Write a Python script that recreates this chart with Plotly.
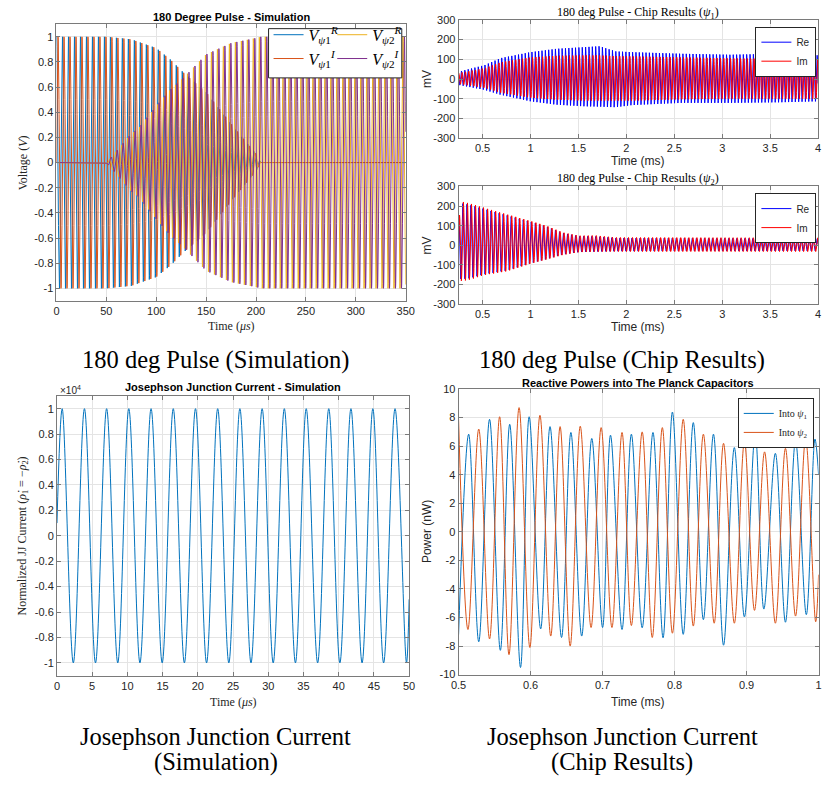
import numpy as np
import plotly.graph_objects as go

W, H = 831, 785

# ---------------- data ----------------
# (a) 180 degree pulse - simulation: envelope knots (us) and carrier period
sim_env_t      = [0, 50, 75, 82, 100, 114, 128, 150, 175, 200, 205, 350]
sim_amp_psi1   = [1, 1, 0.98, 0.96, 0.91, 0.82, 0.71, 0.56, 0.31, 0.07, 0, 0]
sim_amp_psi2   = [0, 0, 0.23, 0.27, 0.45, 0.58, 0.68, 0.86, 0.95, 0.99, 1, 1]
sim_period_us  = 6.0

# (b) chip results: envelope knots (ms), upper / lower (mV), carrier periods
chip_t_knots   = [0.25, 0.52, 0.69, 1.0, 1.27, 1.55, 1.72, 1.89, 2.06, 2.57, 3.08, 3.59, 4.0]
psi1_re_upper  = [37, 70, 106, 136, 153, 161, 166, 140, 136, 128, 123, 128, 120]
psi1_re_lower  = [-30, -55, -80, -113, -130, -138, -140, -143, -132, -121, -121, -118, -113]
psi1_im_upper  = [30, 55, 85, 110, 118, 120, 120, 116, 115, 110, 105, 102, 100]
psi1_im_lower  = [-25, -45, -70, -95, -105, -110, -110, -110, -110, -103, -100, -100, -100]
chip2_t_knots  = [0.25, 0.27, 0.35, 0.52, 0.76, 1.0, 1.17, 1.34, 1.51, 1.68, 1.89, 4.0]
psi2_re_upper  = [120, 215, 208, 185, 152, 120, 95, 62, 46, 45, 37, 33]
psi2_re_lower  = [-170, -172, -170, -148, -128, -92, -70, -47, -34, -32, -30, -28]
psi2_im_upper  = [100, 224, 216, 191, 157, 124, 99, 65, 49, 50, 40, 38]
psi2_im_lower  = [-180, -182, -178, -152, -132, -94, -72, -49, -35, -33, -32, -32]
chip1_period_ms = 0.035
chip2_period_ms = 0.042

# (c) Josephson junction current - simulation: extrema times (us)
jj_peak_t   = [0.74, 3.90, 7.05, 10.20, 13.36, 16.51, 19.67, 22.82, 25.97, 29.13,
               32.28, 35.39, 38.59, 41.74, 44.85, 48.00]
jj_trough_t = [2.32, 5.47, 8.63, 11.78, 14.94, 18.09, 21.24, 24.40, 27.55, 30.70,
               33.86, 37.01, 40.17, 43.32, 46.38, 49.63]
jj_amp = 1e4
jj_start, jj_end = 0.1e4, -0.5e4

# (d) Reactive powers: extrema (time ms, power nW)
p1_t = [0.500, 0.514, 0.528, 0.543, 0.558, 0.571, 0.586, 0.598, 0.614, 0.627, 0.643, 0.656,
        0.671, 0.685, 0.700, 0.711, 0.727, 0.740, 0.755, 0.770, 0.784, 0.797, 0.812, 0.826,
        0.840, 0.854, 0.868, 0.883, 0.897, 0.912, 0.924, 0.940, 0.954, 0.968, 0.983, 0.995, 1.0]
p1_v = [-7.2, 6.84, -7.7, 7.88, -8.3, 7.53, -9.5, 8.06, -6.8, 7.37, -7.4, 6.96,
        -7.3, 6.54, -6.7, 6.77, -6.84, 6.84, -6.72, 6.96, -7.42, 8.39, -7.18, 7.65,
        -6.15, 6.84, -7.94, 5.9, -5.96, 6.9, -5.41, 5.5, -6.33, 6.38, -5.8, 6.5, 4.0]
p2_t = [0.500, 0.513, 0.528, 0.543, 0.557, 0.570, 0.584, 0.599, 0.613, 0.628, 0.641, 0.655,
        0.669, 0.684, 0.698, 0.713, 0.727, 0.740, 0.755, 0.769, 0.783, 0.797, 0.812, 0.826,
        0.840, 0.855, 0.868, 0.883, 0.897, 0.911, 0.925, 0.940, 0.954, 0.968, 0.982, 0.996, 1.0]
p2_v = [7.9, -6.84, 7.2, -7.5, 8.06, -8.6, 8.7, -8.1, 8.16, -7.3, 7.37, -8.0,
        7.4, -6.7, 7.3, -6.7, 6.96, -6.56, 7.0, -7.4, 7.3, -7.1, 7.88, -6.6,
        6.84, -6.4, 6.2, -6.4, 6.3, -5.5, 5.6, -6.4, 5.85, -5.9, 6.54, -6.3, -3.0]

# tick labels
sim_xticks = [0, 50, 100, 150, 200, 250, 300, 350]
sim_yticks = [-1, -0.8, -0.6, -0.4, -0.2, 0, 0.2, 0.4, 0.6, 0.8, 1]
chip_xticks = [0.5, 1, 1.5, 2, 2.5, 3, 3.5, 4]
chip_yticks = [-300, -200, -100, 0, 100, 200, 300]
jj_xticks = [0, 5, 10, 15, 20, 25, 30, 35, 40, 45, 50]
pw_xticks = [0.5, 0.6, 0.7, 0.8, 0.9, 1.0]
pw_yticks = [-10, -8, -6, -4, -2, 0, 2, 4, 6, 8, 10]

# ---------------- build signals ----------------
t_sim = np.linspace(0, 350, 2801)
a1 = np.interp(t_sim, sim_env_t, sim_amp_psi1)
a2 = np.interp(t_sim, sim_env_t, sim_amp_psi2)
ph = 2 * np.pi * t_sim / sim_period_us
v1r, v1i = a1 * np.cos(ph), a1 * np.sin(ph)
v2r, v2i = a2 * np.cos(ph + 0.8), a2 * np.sin(ph + 0.8)

t_c = np.linspace(0.25, 4.0, 3001)
def env_sig(tk, up, lo, period, shift):
    u = np.interp(t_c, tk, up); l = np.interp(t_c, tk, lo)
    return (u + l) / 2 + (u - l) / 2 * np.cos(2 * np.pi * t_c / period + shift)
c1re = env_sig(chip_t_knots, psi1_re_upper, psi1_re_lower, chip1_period_ms, 0.0)
c1im = env_sig(chip_t_knots, psi1_im_upper, psi1_im_lower, chip1_period_ms, -1.2)
c2re = env_sig(chip2_t_knots, psi2_re_upper, psi2_re_lower, chip2_period_ms, 0.0)
c2im = env_sig(chip2_t_knots, psi2_im_upper, psi2_im_lower, chip2_period_ms, -0.9)

jj_ext = sorted(jj_peak_t + jj_trough_t)
jj_t = [0.0] + jj_ext + [50.0]
jj_v = [jj_start] + [jj_amp if t in jj_peak_t else -jj_amp for t in jj_ext] + [jj_end]

# ---------------- figure ----------------
def px(x): return x / W
def py(y): return 1 - y / H

M_BLUE, M_ORANGE, M_YELLOW, M_PURPLE = '#0072BD', '#D95319', '#EDB120', '#7E2F8E'
SANS = 'Liberation Sans, Arial, sans-serif'
SERIF = 'Liberation Serif, Times New Roman, serif'
TXT = '#262626'

fig = go.Figure()
lw = 1
fig.add_trace(go.Scatter(x=t_sim, y=v1r, mode='lines', line=dict(color=M_BLUE, width=lw),
                         name='<i>V</i><sub><i>ψ</i>1</sub><sup><i>R</i></sup>', legend='legend', legendrank=1, xaxis='x', yaxis='y'))
fig.add_trace(go.Scatter(x=t_sim, y=v1i, mode='lines', line=dict(color=M_ORANGE, width=lw),
                         name='<i>V</i><sub><i>ψ</i>1</sub><sup><i>I</i></sup>', legend='legend', legendrank=2, xaxis='x', yaxis='y'))
fig.add_trace(go.Scatter(x=t_sim, y=v2r, mode='lines', line=dict(color=M_YELLOW, width=lw),
                         name='<i>V</i><sub><i>ψ</i>2</sub><sup><i>R</i></sup>', legend='legend5', legendrank=1, xaxis='x', yaxis='y'))
fig.add_trace(go.Scatter(x=t_sim, y=v2i, mode='lines', line=dict(color=M_PURPLE, width=lw),
                         name='<i>V</i><sub><i>ψ</i>2</sub><sup><i>I</i></sup>', legend='legend5', legendrank=2, xaxis='x', yaxis='y'))

fig.add_trace(go.Scatter(x=t_c, y=c1re, mode='lines', line=dict(color='#0000FF', width=1), name='Re', legend='legend2', xaxis='x2', yaxis='y2'))
fig.add_trace(go.Scatter(x=t_c, y=c1im, mode='lines', line=dict(color='#FF0000', width=1), name='Im', legend='legend2', xaxis='x2', yaxis='y2'))
fig.add_trace(go.Scatter(x=t_c, y=c2re, mode='lines', line=dict(color='#0000FF', width=1), name='Re', legend='legend3', xaxis='x3', yaxis='y3'))
fig.add_trace(go.Scatter(x=t_c, y=c2im, mode='lines', line=dict(color='#FF0000', width=1), name='Im', legend='legend3', xaxis='x3', yaxis='y3'))

fig.add_trace(go.Scatter(x=jj_t, y=jj_v, mode='lines', line=dict(color=M_BLUE, width=1, shape='spline', smoothing=1),
                         showlegend=False, xaxis='x4', yaxis='y4'))

fig.add_trace(go.Scatter(x=p1_t, y=p1_v, mode='lines', line=dict(color=M_BLUE, width=1, shape='spline', smoothing=1),
                         name='Into <i>ψ</i><sub>1</sub>', legend='legend4', xaxis='x5', yaxis='y5'))
fig.add_trace(go.Scatter(x=p2_t, y=p2_v, mode='lines', line=dict(color=M_ORANGE, width=1, shape='spline', smoothing=1),
                         name='Into <i>ψ</i><sub>2</sub>', legend='legend4', xaxis='x5', yaxis='y5'))

def fmt(v):
    return '%g' % v

def axis(domain, rng, ticks, anchor, labels=None):
    return dict(domain=domain, range=rng, tickvals=ticks,
                ticktext=labels if labels is not None else [fmt(t) for t in ticks],
                anchor=anchor, showline=True, linecolor='#7a7a7a', linewidth=1, mirror='ticks',
                ticks='inside', ticklen=4, tickcolor='#7a7a7a', showgrid=True, gridcolor='#e4e4e4',
                gridwidth=1, zeroline=False, tickfont=dict(family=SANS, size=11, color=TXT))

fig.update_layout(
    width=W, height=H, margin=dict(l=0, r=0, t=0, b=0),
    paper_bgcolor='white', plot_bgcolor='white', showlegend=True,
    xaxis=axis([px(49.5), px(406)], [0, 350], sim_xticks, 'y'),
    yaxis=axis([py(299.5), py(18.5)], [-1.1, 1.1], sim_yticks, 'x'),
    xaxis2=axis([px(460), px(827)], [0.25, 4], chip_xticks, 'y2'),
    yaxis2=axis([py(134.3), py(14)], [-300, 300], chip_yticks, 'x2'),
    xaxis3=axis([px(460), px(827)], [0.25, 4], chip_xticks, 'y3'),
    yaxis3=axis([py(302.7), py(183.3)], [-300, 300], chip_yticks, 'x3'),
    xaxis4=axis([px(50), px(409.5)], [0, 50], jj_xticks, 'y4'),
    yaxis4=axis([py(680), py(396)], [-1.1e4, 1.1e4], [v * 1e4 for v in sim_yticks], 'x4',
                labels=[fmt(v) for v in sim_yticks]),
    xaxis5=axis([px(460), px(827.5)], [0.5, 1.0], pw_xticks, 'y5', labels=['0.5', '0.6', '0.7', '0.8', '0.9', '1']),
    yaxis5=axis([py(679), py(389)], [-10, 10], pw_yticks, 'x5'),
)

def leg(x, y, font, **kw):
    d = dict(x=px(x), y=py(y), xanchor='left', yanchor='top', xref='paper', yref='paper',
             bgcolor='rgba(0,0,0,0)', borderwidth=0, font=font, tracegroupgap=0,
             itemwidth=30, itemclick=False, itemdoubleclick=False)
    d.update(kw)
    return d

fig.update_layout(
    legend=leg(266, 12, dict(family=SERIF, size=16, color='black')),
    legend5=leg(331, 12, dict(family=SERIF, size=16, color='black')),
    legend2=leg(763, 21, dict(family=SANS, size=10, color=TXT), bgcolor='white', bordercolor='#262626', borderwidth=1),
    legend3=leg(763, 190, dict(family=SANS, size=10, color=TXT), bgcolor='white', bordercolor='#262626', borderwidth=1),
    legend4=leg(745, 398, dict(family=SERIF, size=10, color=TXT), bgcolor='white', bordercolor='#262626', borderwidth=1),
)

fig.add_shape(type='rect', xref='paper', yref='paper', x0=px(266), x1=px(402), y0=py(73), y1=py(23),
              line=dict(color='#262626', width=1), fillcolor='white', layer='above')

def ann(text, x, y, size, family, bold=False, color=TXT, angle=0, xanchor='center'):
    fig.add_annotation(text=('<b>%s</b>' % text) if bold else text, x=px(x), y=py(y), xref='paper', yref='paper',
                       showarrow=False, xanchor=xanchor, yanchor='middle', textangle=angle,
                       font=dict(family=family, size=size, color=color))

# titles
ann('180 Degree Pulse - Simulation', 228, 11.5, 11, SANS, bold=True, color='black')
ann('180 deg Pulse - Chip Results (<i>ψ</i><sub>1</sub>)', 643, 7, 12, SERIF, color='black')
ann('180 deg Pulse - Chip Results (<i>ψ</i><sub>2</sub>)', 643, 176, 12, SERIF, color='black')
ann('Josephson Junction Current - Simulation', 230, 386.5, 11, SANS, bold=True, color='black')
ann('Reactive Powers into The Planck Capacitors', 643, 382.5, 11, SANS, bold=True, color='black')
# axis labels
ann('Time (<i>μs</i>)', 228, 325, 12, SERIF)
ann('Voltage (<i>V</i>)', 15, 159, 12, SERIF, angle=-90)
ann('Time (ms)', 643, 157, 12, SANS)
ann('Time (ms)', 643, 326, 12, SANS)
ann('mV', 428, 74, 12, SANS, angle=-90)
ann('mV', 428, 243, 12, SANS, angle=-90)
ann('Time (<i>μs</i>)', 230, 707, 12, SERIF)
ann('Normalized JJ Current (<i>ρ̇</i><sub>1</sub> = −<i>ρ̇</i><sub>2</sub>)', 15, 538, 12, SERIF, angle=-90)
ann('×10<sup>4</sup>', 51, 390, 10, SANS, xanchor='left')
ann('Time (ms)', 643, 707, 12, SANS)
ann('Power (nW)', 428, 534, 12, SANS, angle=-90)
# captions
CAP = 24.5
ann('180 deg Pulse (Simulation)', 212, 360, CAP, SERIF, color='black')
ann('180 deg Pulse (Chip Results)', 627, 360, CAP, SERIF, color='black')
ann('Josephson Junction Current', 212, 742, CAP, SERIF, color='black')
ann('(Simulation)', 212, 768, CAP, SERIF, color='black')
ann('Josephson Junction Current', 627, 742, CAP, SERIF, color='black')
ann('(Chip Results)', 627, 768, CAP, SERIF, color='black')

fig.write_html('out.html')
